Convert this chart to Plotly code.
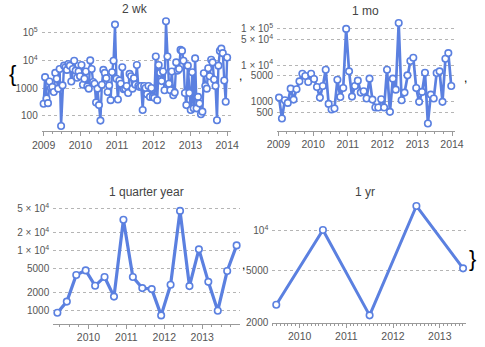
import pandas as pd
import plotly.graph_objects as go

W, H = 485, 347

# ---- data -------------------------------------------------------------
biweekly_values = [
    268, 2470, 416, 283, 1730, 1000, 1086, 720, 3530, 2155,
    946, 4900, 42, 1245, 6450, 5620, 4520, 7400, 6450, 1730,
    4900, 9730, 4275, 2340, 3940, 2680, 6810, 1315, 2155, 3940,
    1147, 946, 10000, 4900, 1640, 1430, 299, 946, 240, 66,
    1315, 4520, 3530, 2275, 720, 1245, 363, 3730, 9730, 198600,
    2155, 383, 1880, 1430, 5620, 896, 946, 1180, 663, 3250,
    2680, 946, 2275, 1315, 6810, 1180, 1086, 1180, 159, 1180,
    1000, 594, 1180, 477, 1000, 477, 440, 13900, 363, 6810,
    3530, 1780, 3940, 826, 261000, 13900, 1430, 826, 3940, 547,
    681, 8480, 4275, 4900, 24000, 22100, 9730, 663, 240, 6450,
    663, 159, 3730, 183, 11800, 183, 477, 275, 112, 139,
    3430, 1180, 946, 5180, 2680, 10550, 8480, 2040, 1180, 68,
    6450, 22100, 26800, 18300, 1880, 316, 12800,
]
monthly_values = [
    1260, 333, 1066, 900, 2230, 1110, 2140, 3550, 5770, 4980,
    3400, 5770, 4120, 2480, 1260, 2640, 7440, 845, 590, 628,
    3940, 1315, 2330, 100000, 6700, 1343, 2640, 3710, 1730, 1880,
    1185, 4210, 1110, 670, 670, 1135, 670, 7440, 508, 4210,
    2090, 146000, 1066, 1730, 5200, 12900, 15900, 2330, 960, 1810,
    6150, 243, 1525, 1185, 6020, 6700, 960, 14900, 21400, 2640,
]
quarterly_values = [
    915, 1405, 3890, 4640, 2570, 3610, 1700, 32200, 3610, 2355,
    2265, 828, 2670, 45300, 2540, 10380, 2990, 990, 4530, 12080,
]
yearly_values = [2715, 10110, 2255, 15400, 5150]

biweekly_dates = pd.date_range("2009-01-01", "2014-01-01", periods=len(biweekly_values))
monthly_dates = pd.date_range("2009-01-08", "2013-12-24", periods=len(monthly_values))
quarterly_dates = pd.date_range("2009-03-07", "2013-11-28", periods=len(quarterly_values))
yearly_dates = pd.to_datetime(["2009-07-02", "2010-07-02", "2011-07-02", "2012-07-02", "2013-07-02"])

titles = ["2 wk", "1 mo", "1 quarter year", "1 yr"]

y_ticks = [
    ([100, 1000, 1e4, 1e5], ["100", "1000", "10<sup>4</sup>", "10<sup>5</sup>"]),
    ([500, 1000, 5000, 1e4, 5e4, 1e5],
     ["500", "1000", "5000", "1 × 10<sup>4</sup>", "5 × 10<sup>4</sup>", "1 × 10<sup>5</sup>"]),
    ([1000, 2000, 5000, 1e4, 2e4, 5e4],
     ["1000", "2000", "5000", "1 × 10<sup>4</sup>", "2 × 10<sup>4</sup>", "5 × 10<sup>4</sup>"]),
    ([2000, 5000, 1e4], ["2000", "5000", "10<sup>4</sup>"]),
]

# ---- styling / layout helpers ----------------------------------------
BLUE = "#5b80e0"
GREY_TXT = "#555555"
AXIS_GREY = "#9a9a9a"
FONT = "Liberation Sans, Arial, sans-serif"


def px_x(p):
    return p / W


def px_y(p):
    return 1 - p / H


# pixel boxes: (left, right, top, bottom), x range, log y range, minor dtick, line width
panels = [
    dict(box=(33, 230, 18, 133), xr=["2008-12-13", "2014-02-08"], yr=[1.439, 5.546],
         minor="M3", lw=2.4, ms=6.5, title_xy=(130, 9), data=(biweekly_dates, biweekly_values)),
    dict(box=(278, 463, 18, 132.7), xr=["2008-12-19", "2014-01-31"], yr=[2.183, 5.308],
         minor="M3", lw=2.7, ms=6.5, title_xy=(370, 11), data=(monthly_dates, monthly_values)),
    dict(box=(45, 239, 205, 328.3), xr=["2009-01-26", "2013-12-27"], yr=[2.782, 4.803],
         minor="M3", lw=3.2, ms=6.5, title_xy=(142, 195), data=(quarterly_dates, quarterly_values)),
    dict(box=(273, 475, 200, 327.3), xr=["2009-06-01", "2013-07-28"], yr=[3.298, 4.255],
         minor="M1", lw=3.0, ms=6.5, title_xy=(369, 195), data=(yearly_dates, yearly_values)),
]

fig = go.Figure()
layout = dict(
    width=W, height=H,
    margin=dict(l=0, r=0, t=0, b=0),
    paper_bgcolor="white", plot_bgcolor="white",
    showlegend=False,
    font=dict(family=FONT, size=10, color=GREY_TXT),
)

annotations = []
for i, p in enumerate(panels, start=1):
    sfx = "" if i == 1 else str(i)
    xs, ys = p["data"]
    fig.add_trace(go.Scatter(
        x=xs, y=ys, mode="lines+markers",
        line=dict(color=BLUE, width=p["lw"]),
        marker=dict(size=p["ms"], color="white", line=dict(color=BLUE, width=1.6)),
        xaxis="x" + sfx, yaxis="y" + sfx, cliponaxis=False,
    ))
    l, r, t, b = p["box"]
    tv, tt = y_ticks[i - 1]
    layout["xaxis" + sfx] = dict(
        domain=[px_x(l), px_x(r)], anchor="y" + sfx, type="date", range=p["xr"],
        showline=True, linecolor=AXIS_GREY, linewidth=1,
        ticks="outside", ticklen=4, tickcolor=AXIS_GREY, tickwidth=1,
        dtick="M12", tick0="2009-01-01", tickformat="%Y",
        showgrid=False, zeroline=False,
        tickfont=dict(size=10.5, color=GREY_TXT),
        minor=dict(ticks="outside", ticklen=2, dtick=p["minor"], tick0="2009-01-01",
                   tickcolor=AXIS_GREY, showgrid=False),
    )
    layout["yaxis" + sfx] = dict(
        domain=[px_y(b), px_y(t)], anchor="x" + sfx, type="log", range=p["yr"],
        tickvals=tv, ticktext=tt, ticks="", showline=False, zeroline=False,
        showgrid=True, gridcolor="#b5b5b5", griddash="dot", gridwidth=1,
        tickfont=dict(size=10, color=GREY_TXT), ticklabelstandoff=3,
    )
    tx, ty = p["title_xy"]
    annotations.append(dict(
        x=px_x(tx), y=px_y(ty), xref="paper", yref="paper", text=titles[i - 1],
        showarrow=False, xanchor="center", yanchor="middle",
        font=dict(size=12, color="#444444", family=FONT),
    ))

# list punctuation around the four plots
for txt, x, y, size in [("{", 3, 75, 22), (",", 240, 77, 12), (",", 474, 79, 12),
                        (",", 243, 269, 12), ("}", 481, 262, 22)]:
    annotations.append(dict(
        x=px_x(x), y=px_y(y), xref="paper", yref="paper", text=txt,
        showarrow=False, xanchor="center", yanchor="middle",
        font=dict(size=size, color="#000000", family=FONT),
    ))

layout["annotations"] = annotations
fig.update_layout(**layout)
fig.write_html("out.html")
